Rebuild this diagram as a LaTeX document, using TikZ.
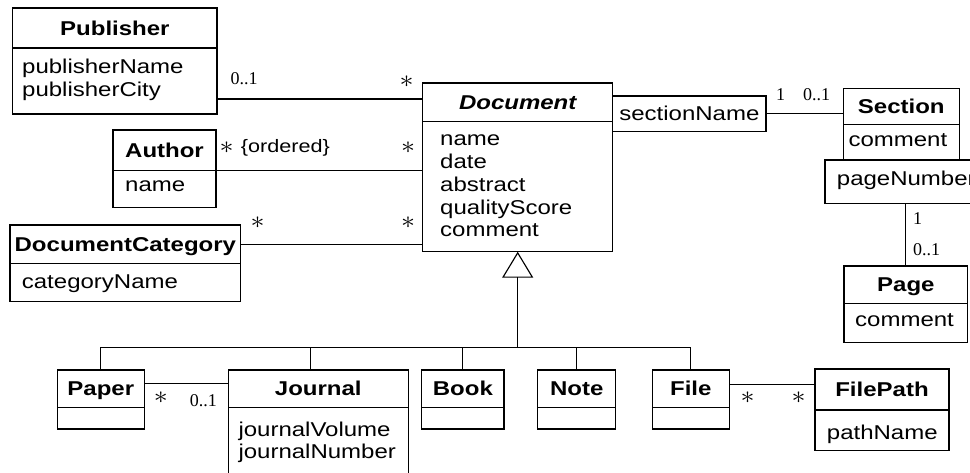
\documentclass[tikz,border=0pt]{standalone}
\usepackage{fontspec}
\usepackage{graphicx}
\setmainfont{Liberation Sans}[FakeStretch=1.2]
\newfontfamily\multfont{Liberation Serif}
\usetikzlibrary{arrows.meta}

% attribute list: the node's base anchor is the first line's baseline
\newcommand{\attlist}[1]{\begin{tabular}[t]{@{}l@{}}#1\end{tabular}}
\newcommand{\starmark}{\scalebox{2.8}[2.5]{$\ast$}}

\tikzset{
  uml/.style={draw, line width=1.15pt, inner sep=0pt, outer sep=0pt, anchor=north west},
  head/.style={uml, font=\fontsize{20}{23}\selectfont\bfseries, text height=14.3pt, text depth=0pt},
  body/.style={uml},
  plainbox/.style={uml, font=\fontsize{20}{23}\selectfont, text height=14.3pt, text depth=0pt},
  attr/.style={inner sep=0pt, anchor=base west, font=\fontsize{20}{22.8}\selectfont},
  mult/.style={inner sep=0pt, font=\fontsize{18}{18}\selectfont\multfont},
  star/.style={inner sep=0pt},
  conn/.style={line width=1.15pt},
}

\begin{document}
\begin{tikzpicture}[x=1pt, y=-1pt]
  \useasboundingbox (0,0) rectangle (970,473);
  \fill[white] (0,0) rectangle (970,473);
  \clip (0,0) rectangle (970,473);

  % ---- classes ----
  \node[head, minimum width=204.3pt, minimum height=40pt] (pub-h) at (12.7,8) {Publisher};
  \node[body, minimum width=204.3pt, minimum height=66pt] (pub-b) at (pub-h.south west) {};
  \node[attr] (pub-t) at (22,74) {\attlist{publisherName\\publisherCity}};

  \node[head, minimum width=103pt, minimum height=40.7pt] (auth-h) at (113,130) {Author};
  \node[body, minimum width=103pt, minimum height=36.6pt] (auth-b) at (auth-h.south west) {};
  \node[attr] (auth-t) at (125,191.7) {name};

  \node[head, minimum width=230.7pt, minimum height=38.3pt] (dc-h) at (10,225) {DocumentCategory};
  \node[body, minimum width=230.7pt, minimum height=38.4pt] (dc-b) at (dc-h.south west) {};
  \node[attr] (dc-t) at (21.7,288.3) {categoryName};

  \node[head, minimum width=190pt, minimum height=38.7pt] (doc-h) at (422.7,83) {\itshape Document};
  \node[body, minimum width=190pt, minimum height=130pt] (doc-b) at (doc-h.south west) {};
  \node[attr] (doc-t) at (440,145.7) {\attlist{name\\date\\abstract\\qualityScore\\comment}};

  \node[plainbox, minimum width=153.3pt, minimum height=35.7pt] (secn) at (612.7,96) {sectionName};

  \node[head, minimum width=116pt, minimum height=36pt] (sec-h) at (843.3,88.3) {Section};
  \node[body, minimum width=116pt, minimum height=35pt] (sec-b) at (sec-h.south west) {};
  \node[attr] (sec-t) at (848.3,146.7) {comment};

  \node[body, minimum width=190pt, minimum height=43.3pt] (pgn) at (825,160) {};
  \node[attr] (pgn-t) at (836.7,186) {pageNumber};

  \node[head, minimum width=123.7pt, minimum height=37.3pt] (page-h) at (844,266) {Page};
  \node[body, minimum width=123.7pt, minimum height=39.4pt] (page-b) at (page-h.south west) {};
  \node[attr] (page-t) at (855,326.7) {comment};

  \node[head, minimum width=87pt, minimum height=37.3pt] (paper-h) at (57.3,370) {Paper};
  \node[body, minimum width=87pt, minimum height=21.7pt] (paper-b) at (paper-h.south west) {};

  \node[head, minimum width=180pt, minimum height=37.3pt] (jour-h) at (228.3,370) {Journal};
  \node[body, minimum width=180pt, minimum height=100pt] (jour-b) at (jour-h.south west) {};
  \node[attr] (jour-t) at (238.3,436) {\attlist{journalVolume\\journalNumber}};

  \node[head, minimum width=82.3pt, minimum height=37.3pt] (book-h) at (421.7,370) {Book};
  \node[body, minimum width=82.3pt, minimum height=21.7pt] (book-b) at (book-h.south west) {};

  \node[head, minimum width=78pt, minimum height=37.3pt] (note-h) at (537.7,370) {Note};
  \node[body, minimum width=78pt, minimum height=21.7pt] (note-b) at (note-h.south west) {};

  \node[head, minimum width=77pt, minimum height=37.3pt] (file-h) at (652.3,370) {File};
  \node[body, minimum width=77pt, minimum height=21.7pt] (file-b) at (file-h.south west) {};

  \node[head, minimum width=134pt, minimum height=41pt] (fp-h) at (815,369) {FilePath};
  \node[body, minimum width=134pt, minimum height=40.7pt] (fp-b) at (fp-h.south west) {};
  \node[attr] (fp-t) at (826.7,439.3) {pathName};

  % ---- associations ----
  \draw[conn] (pub-b.east |- 0,99) -- (doc-h.west |- 0,99);
  \draw[conn] (auth-b.north east) -- (auth-b.north east -| doc-b.west);
  \draw[conn] (dc-h.east) -- (dc-h.east -| doc-b.west);
  \draw[conn] (secn.east) -- (secn.east -| sec-h.west);
  \draw[conn] (pgn.south -| page-h.north) -- (page-h.north);
  \coordinate (pj) at ([yshift=5.4pt]paper-h.east);
  \draw[conn] (pj) -- (pj -| jour-h.west);
  \coordinate (ff) at ([yshift=4.3pt]file-h.east);
  \draw[conn] (ff) -- (ff -| fp-h.west);

  % ---- generalization ----
  \coordinate (bus) at (doc-b.south |- 0,347.3);
  \coordinate (jtop) at ([xshift=-7.6pt]jour-h.north);
  \draw[conn] (paper-h.north) |- (file-h.north |- bus) -- (file-h.north);
  \draw[conn] (jtop) -- (jtop |- bus);
  \draw[conn] (book-h.north) -- (book-h.north |- bus);
  \draw[conn] (note-h.north) -- (note-h.north |- bus);
  \draw[conn, -{Triangle[open, length=26pt, width=31pt]}] (bus) -- (doc-b.south);

  % ---- multiplicities ----
  \node[mult] (m-pub) at (244,79) {0..1};
  \node[star] (s-pubdoc) at (406.7,81.7) {\starmark};
  \node[star] (s-auth) at (226.7,148) {\starmark};
  \node[inner sep=0pt, anchor=west, font=\fontsize{18}{20}\selectfont] (ordered) at (240.7,148) {\{ordered\}};
  \node[star] (s-authdoc) at (408,148) {\starmark};
  \node[star] (s-dc) at (257.5,223) {\starmark};
  \node[star] (s-dcdoc) at (408,223) {\starmark};
  \node[mult] (m-secn) at (780.5,95) {1};
  \node[mult] (m-sec) at (816.5,95) {0..1};
  \node[mult, anchor=west] (m-pgn) at (913,218.3) {1};
  \node[mult, anchor=west] (m-page) at (913,249.2) {0..1};
  \node[star] (s-paper) at (160.8,397.5) {\starmark};
  \node[mult] (m-jour) at (203.3,401) {0..1};
  \node[star] (s-file) at (747.5,397.5) {\starmark};
  \node[star] (s-fp) at (798.5,397.5) {\starmark};
\end{tikzpicture}
\end{document}
